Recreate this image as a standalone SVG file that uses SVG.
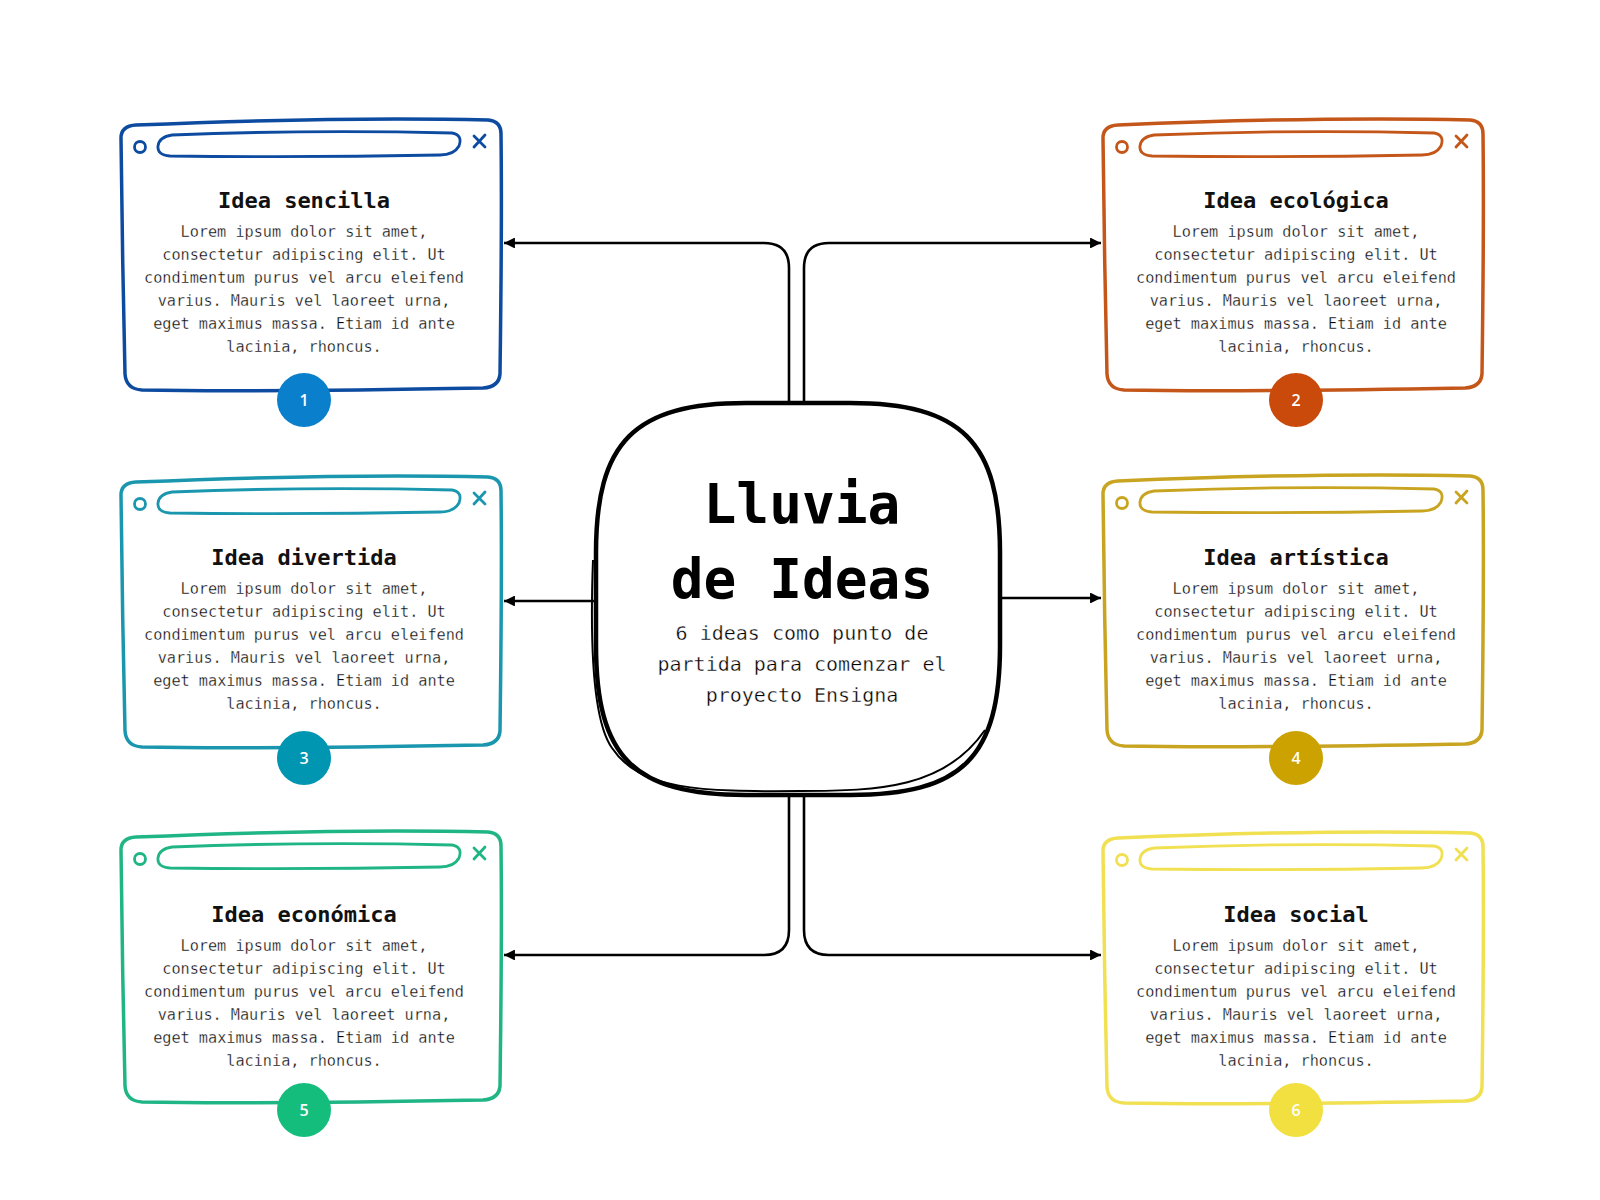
<svg xmlns="http://www.w3.org/2000/svg" xmlns:xlink="http://www.w3.org/1999/xlink" width="1600" height="1200" viewBox="0 0 1600 1200">
<style>
.t{font-family:"DejaVu Sans Mono","Liberation Mono",monospace;font-weight:bold;font-size:22px;fill:#111;text-anchor:middle}
.b{font-family:"DejaVu Sans Mono","Liberation Mono",monospace;font-size:15.2px;fill:#000;stroke:#fff;stroke-width:0.3;text-anchor:middle}
.n{font-family:"Open Sans","Noto Sans",sans-serif;font-weight:600;font-size:16px;fill:#fff;text-anchor:middle}
.fr{fill:none;stroke:currentColor;stroke-width:3.5;stroke-linecap:round;stroke-linejoin:round}
.fr2{fill:none;stroke:currentColor;stroke-width:2.8;stroke-linecap:round;stroke-linejoin:round}
.con{fill:none;stroke:#000;stroke-width:2.6}
.ct{font-family:"DejaVu Sans Mono","Liberation Mono",monospace;font-weight:bold;font-size:54.5px;fill:#000;text-anchor:middle}
.cs{font-family:"DejaVu Sans Mono","Liberation Mono",monospace;font-size:20px;fill:#000;stroke:#fff;stroke-width:0.35;text-anchor:middle}
</style>
<defs>
<marker id="arr" viewBox="0 0 10 10" refX="10" refY="5" markerWidth="4.2" markerHeight="4.2" orient="auto" markerUnits="strokeWidth">
<path d="M0,0 L10,5 L0,10 z" fill="#000"/>
</marker>
<g id="frame">
<path class="fr" d="M14,5 C110,1 250,-3 366,0 Q379,1 379,14 C380,90 379,180 378,254 Q377,267 361,268 C250,270 120,272 20,270 Q4,269 3,254 C1,180 0,90 -1,18 Q-1,6 14,5 Z"/>
<circle class="fr2" cx="18" cy="27" r="5.5"/>
<path class="fr2" d="M50,15 C150,11 250,11 330,13 Q341,15 337,26 Q332,35 318,35 C220,37 120,37 48,36 Q35,35 36,26 Q37,17 50,15 Z"/>
<path class="fr2" d="M352,16 L363,27 M363,15 L352,27"/>
</g>
</defs>
<rect width="1600" height="1200" fill="#fff"/>

<g id="connectors">
<path class="con" marker-end="url(#arr)" d="M789,403 V268 Q789,243 764,243 H504"/>
<path class="con" marker-end="url(#arr)" d="M804,403 V268 Q804,243 829,243 H1101"/>
<path class="con" marker-end="url(#arr)" d="M596,601 H504"/>
<path class="con" marker-end="url(#arr)" d="M1000,598 H1101"/>
<path class="con" marker-end="url(#arr)" d="M789,795 V930 Q789,955 764,955 H504"/>
<path class="con" marker-end="url(#arr)" d="M804,795 V930 Q804,955 829,955 H1101"/>
</g>

<g id="center">
<path d="M746,403 L850,403 C962,403 1000,442 1000,553 L1000,645 C1000,758 962,795 850,795 L746,795 C634,795 596,758 596,645 L596,553 C596,442 634,403 746,403 Z" fill="#fff" stroke="#000" stroke-width="4.5"/>
<path d="M593,560 C590,640 592,720 612,748 C640,790 700,792 800,791 C880,791 945,788 985,730" fill="none" stroke="#000" stroke-width="2"/>
<path d="M640,428 C660,412 685,406 712,404" fill="none" stroke="#000" stroke-width="1.6"/>
<text class="ct" x="802" y="523">Lluvia</text>
<text class="ct" x="802" y="598">de Ideas</text>
<text class="cs"><tspan x="802" y="640">6 ideas como punto de</tspan><tspan x="802" y="671">partida para comenzar el</tspan><tspan x="802" y="702">proyecto Ensigna</tspan></text>
</g>

<g id="idea1" transform="translate(122,120)">
<use xlink:href="#frame" href="#frame" style="color:#0D4BA0"/>
<circle cx="182" cy="280" r="27" fill="#0A80CC"/>
<text class="n" x="182" y="286">1</text>
<text class="t" x="182" y="88">Idea sencilla</text>
<text class="b"><tspan x="182" y="117">Lorem ipsum dolor sit amet,</tspan><tspan x="182" y="140">consectetur adipiscing elit. Ut</tspan><tspan x="182" y="163">condimentum purus vel arcu eleifend</tspan><tspan x="182" y="186">varius. Mauris vel laoreet urna,</tspan><tspan x="182" y="209">eget maximus massa. Etiam id ante</tspan><tspan x="182" y="232">lacinia, rhoncus.</tspan></text>
</g>

<g id="idea2" transform="translate(1104,120)">
<use xlink:href="#frame" href="#frame" style="color:#C4561A"/>
<circle cx="192" cy="280" r="27" fill="#C94A0A"/>
<text class="n" x="192" y="286">2</text>
<text class="t" x="192" y="88">Idea ecológica</text>
<text class="b"><tspan x="192" y="117">Lorem ipsum dolor sit amet,</tspan><tspan x="192" y="140">consectetur adipiscing elit. Ut</tspan><tspan x="192" y="163">condimentum purus vel arcu eleifend</tspan><tspan x="192" y="186">varius. Mauris vel laoreet urna,</tspan><tspan x="192" y="209">eget maximus massa. Etiam id ante</tspan><tspan x="192" y="232">lacinia, rhoncus.</tspan></text>
</g>

<g id="idea3" transform="translate(122,477)">
<use xlink:href="#frame" href="#frame" style="color:#1A97AE"/>
<circle cx="182" cy="281" r="27" fill="#0095B0"/>
<text class="n" x="182" y="287">3</text>
<text class="t" x="182" y="88">Idea divertida</text>
<text class="b"><tspan x="182" y="117">Lorem ipsum dolor sit amet,</tspan><tspan x="182" y="140">consectetur adipiscing elit. Ut</tspan><tspan x="182" y="163">condimentum purus vel arcu eleifend</tspan><tspan x="182" y="186">varius. Mauris vel laoreet urna,</tspan><tspan x="182" y="209">eget maximus massa. Etiam id ante</tspan><tspan x="182" y="232">lacinia, rhoncus.</tspan></text>
</g>

<g id="idea4" transform="translate(1104,476)">
<use xlink:href="#frame" href="#frame" style="color:#C8A420"/>
<circle cx="192" cy="282" r="27" fill="#CCA200"/>
<text class="n" x="192" y="288">4</text>
<text class="t" x="192" y="89">Idea artística</text>
<text class="b"><tspan x="192" y="118">Lorem ipsum dolor sit amet,</tspan><tspan x="192" y="141">consectetur adipiscing elit. Ut</tspan><tspan x="192" y="164">condimentum purus vel arcu eleifend</tspan><tspan x="192" y="187">varius. Mauris vel laoreet urna,</tspan><tspan x="192" y="210">eget maximus massa. Etiam id ante</tspan><tspan x="192" y="233">lacinia, rhoncus.</tspan></text>
</g>

<g id="idea5" transform="translate(122,832)">
<use xlink:href="#frame" href="#frame" style="color:#20B585"/>
<circle cx="182" cy="278" r="27" fill="#15BD7D"/>
<text class="n" x="182" y="284">5</text>
<text class="t" x="182" y="90">Idea económica</text>
<text class="b"><tspan x="182" y="119">Lorem ipsum dolor sit amet,</tspan><tspan x="182" y="142">consectetur adipiscing elit. Ut</tspan><tspan x="182" y="165">condimentum purus vel arcu eleifend</tspan><tspan x="182" y="188">varius. Mauris vel laoreet urna,</tspan><tspan x="182" y="211">eget maximus massa. Etiam id ante</tspan><tspan x="182" y="234">lacinia, rhoncus.</tspan></text>
</g>

<g id="idea6" transform="translate(1104,833)">
<use xlink:href="#frame" href="#frame" style="color:#F0E052"/>
<circle cx="192" cy="277" r="27" fill="#F2E040"/>
<text class="n" x="192" y="283">6</text>
<text class="t" x="192" y="89">Idea social</text>
<text class="b"><tspan x="192" y="118">Lorem ipsum dolor sit amet,</tspan><tspan x="192" y="141">consectetur adipiscing elit. Ut</tspan><tspan x="192" y="164">condimentum purus vel arcu eleifend</tspan><tspan x="192" y="187">varius. Mauris vel laoreet urna,</tspan><tspan x="192" y="210">eget maximus massa. Etiam id ante</tspan><tspan x="192" y="233">lacinia, rhoncus.</tspan></text>
</g>
</svg>
